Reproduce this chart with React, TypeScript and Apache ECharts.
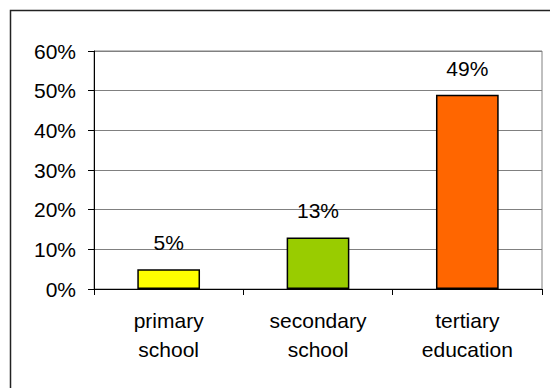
import React, { useEffect, useRef } from "react";
import * as echarts from "echarts";

const categories = ["primary\nschool", "secondary\nschool", "tertiary\neducation"];
const values = [5, 13, 49];
const barColors = ["#FFFF00", "#99CC00", "#FF6600"];
const yMin = 0;
const yMax = 60;
const yInterval = 10;

export default function App() {
  const ref = useRef<HTMLDivElement>(null);
  useEffect(() => {
    if (!ref.current) return;
    const chart = echarts.init(ref.current, null, { renderer: "svg" });
    const font = "'Liberation Sans', Arial, sans-serif";
    chart.setOption({
      animation: false,
      backgroundColor: "#ffffff",
      textStyle: { fontFamily: font },
      grid: {
        left: 94,
        right: 8,
        top: 51,
        bottom: 99,
        show: true,
        borderColor: "#808080",
        borderWidth: 1,
        backgroundColor: "transparent",
      },
      graphic: [
        {
          type: "rect",
          shape: { x: 10.5, y: 10.5, width: 600, height: 500 },
          style: { fill: "none", stroke: "#222222", lineWidth: 1.5 },
          silent: true,
          z: 100,
        },
      ],
      xAxis: {
        type: "category",
        data: categories,
        axisLine: { show: true, lineStyle: { color: "#000000", width: 1 } },
        axisTick: { show: true, length: 6, lineStyle: { color: "#000000" } },
        axisLabel: {
          color: "#000000",
          fontSize: 21,
          fontFamily: font,
          lineHeight: 29,
          margin: 17,
          interval: 0,
        },
        splitLine: { show: false },
      },
      yAxis: {
        type: "value",
        min: yMin,
        max: yMax,
        interval: yInterval,
        axisLine: { show: true, lineStyle: { color: "#000000", width: 1 } },
        axisTick: { show: true, length: 6, lineStyle: { color: "#000000" } },
        axisLabel: {
          color: "#000000",
          fontSize: 21,
          fontFamily: font,
          margin: 18,
          formatter: "{value}%",
        },
        splitLine: { show: true, lineStyle: { color: "#808080", width: 1 } },
      },
      series: [
        {
          type: "bar",
          data: values.map((v, i) => ({
            value: v,
            itemStyle: { color: barColors[i] },
          })),
          barWidth: "42%",
          itemStyle: { borderColor: "#000000", borderWidth: 1.5 },
          label: {
            show: true,
            position: "top",
            distance: 16,
            color: "#000000",
            fontSize: 21,
            fontFamily: font,
            formatter: "{c}%",
          },
        },
      ],
    });
    return () => chart.dispose();
  }, []);
  return (
    <div
      ref={ref}
      style={{ position: "absolute", left: 0, top: 0, width: 550, height: 388 }}
    />
  );
}
